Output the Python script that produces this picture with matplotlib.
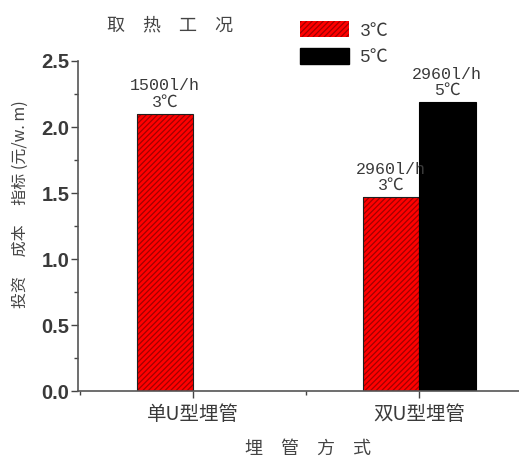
import matplotlib
matplotlib.use('Agg')
import numpy as np
import matplotlib.pyplot as plt
from matplotlib.patches import Patch
from matplotlib.ticker import MultipleLocator, FormatStrFormatter

# data
categories = ['单U型埋管', '双U型埋管']
series_names = ['3℃', '5℃']
vals_3c = [2.10, 1.47]
vals_5c = [0.0, 2.19]
labels_3c = ['1500l/h\n3℃', '2960l/h\n3℃']
labels_5c = ['', '2960l/h\n5℃']

cjk = ['Noto Sans CJK SC', 'DejaVu Sans']
mono = ['Liberation Mono', 'Noto Sans CJK SC', 'DejaVu Sans']
plt.rcParams['font.family'] = cjk
plt.rcParams['hatch.linewidth'] = 0.9

fig = plt.figure(figsize=(5.19, 4.69), dpi=100)
ax = fig.add_axes([0.150, 0.166, 0.850, 0.704])

x = np.arange(1, len(categories) + 1)
w = 0.25
red = '#ff0000'
hatch_c = '#a00000'
txt_c = '#3a3a3a'

# red hatched bars (hatch first, outline on top)
ax.bar(x - w / 2, vals_3c, w, color=red, hatch='//////', edgecolor=hatch_c, linewidth=0)
ax.bar(x - w / 2, vals_3c, w, fill=False, edgecolor='#202020', linewidth=0.8)
ax.bar(x + w / 2, vals_5c, w, color='black', edgecolor='black', linewidth=0.8)

for xs, vs, ts in [(x - w / 2, vals_3c, labels_3c), (x + w / 2, vals_5c, labels_5c)]:
    for xi, v, t in zip(xs, vs, ts):
        if t:
            ax.annotate(t, (xi, v), xytext=(0, 3), textcoords='offset points', ha='center',
                        va='bottom', fontsize=12, family=mono, color=txt_c, linespacing=1.1)

ax.set_xlim(0.49, 2.442)
ax.set_ylim(0, 2.5)
ax.set_xticks(x)
ax.set_xticklabels(categories, fontsize=14, color=txt_c)
ax.xaxis.set_minor_locator(MultipleLocator(0.5))
ax.yaxis.set_major_locator(MultipleLocator(0.5))
ax.yaxis.set_minor_locator(MultipleLocator(0.25))
ax.yaxis.set_major_formatter(FormatStrFormatter('%.1f'))
for lab in ax.get_yticklabels():
    lab.set_family(['Liberation Sans'])
    lab.set_fontweight('bold')
    lab.set_fontsize(14.5)
    lab.set_color(txt_c)

ax.tick_params(axis='both', which='major', direction='out', length=5, width=1, color='#444444')
ax.tick_params(axis='both', which='minor', direction='out', length=3, width=1, color='#444444')
ax.tick_params(axis='y', pad=1)
ax.tick_params(axis='x', pad=4)

for s in ['top', 'right']:
    ax.spines[s].set_visible(False)
for s in ['left', 'bottom']:
    ax.spines[s].set_color('#555555')
    ax.spines[s].set_linewidth(1.2)

ax.set_ylabel('投资\u3000 成本\u3000 指标 (元/w. m)', fontsize=11.5, color='#444444')
ax.yaxis.set_label_coords(-49 / 441, (391 - 204) / 330)
ax.set_xlabel('埋\u3000管\u3000方\u3000式', fontsize=13, color='#444444')
ax.xaxis.set_label_coords((308 - 78) / 441, -(440 - 391) / 330)

fig.text(170 / 519, 1 - 25 / 469, '取\u3000热\u3000工\u3000况', fontsize=13, color='#444444',
         ha='center', va='center')

handles = [Patch(facecolor=red, edgecolor=hatch_c, hatch='//////', linewidth=0),
           Patch(facecolor='black', edgecolor='black')]
leg = fig.legend(handles, series_names, loc='upper left', bbox_to_anchor=(284 / 519, 1 - 5 / 469),
                 frameon=False, handlelength=2.7, handleheight=1.0, labelspacing=0.45,
                 handletextpad=0.6, prop={'family': mono, 'size': 13})
for t in leg.get_texts():
    t.set_color(txt_c)

fig.savefig('out.png', dpi=100)
